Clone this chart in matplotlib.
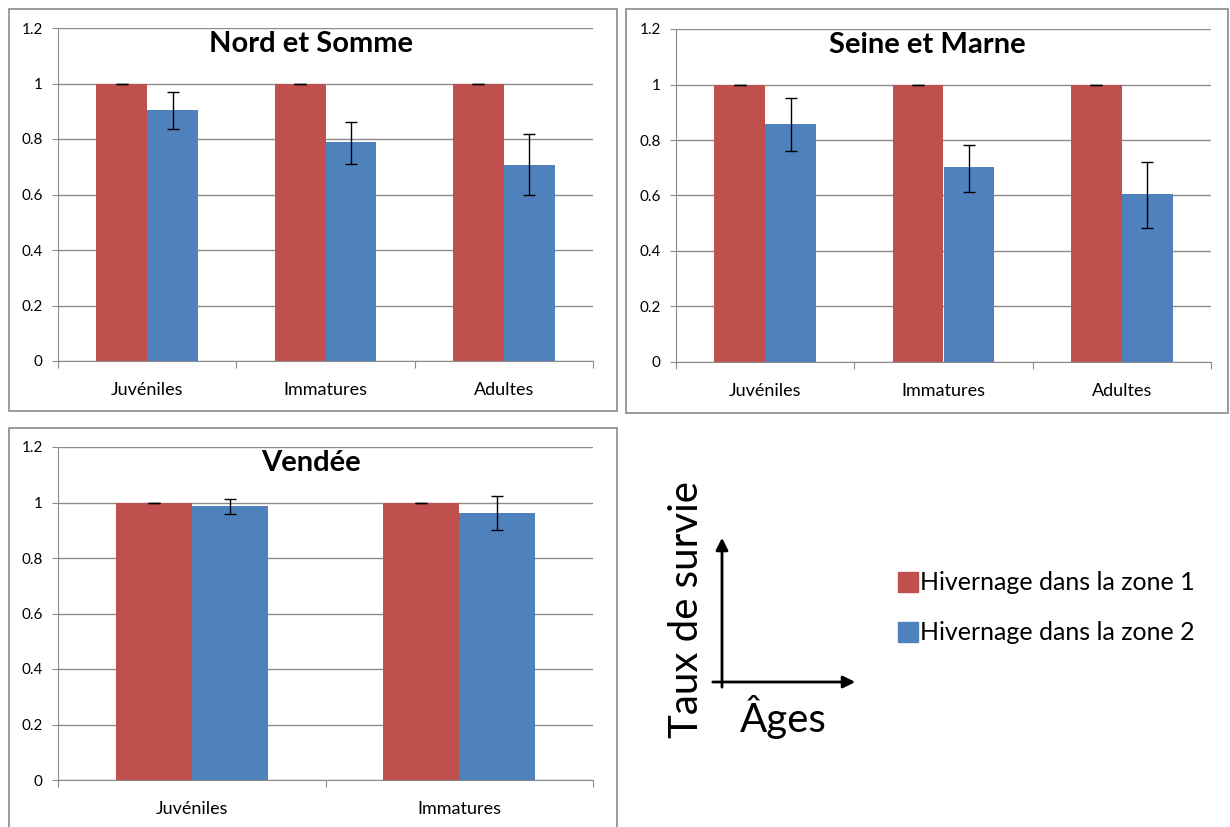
import numpy as np
import matplotlib.pyplot as plt
from matplotlib.patches import Rectangle

plt.rcParams['font.family'] = ['Lato', 'DejaVu Sans']

red = '#C0504D'
blue = '#4F81BD'
grid_col = '#8C8C8C'

# data
cats3 = ["Juvéniles", "Immatures", "Adultes"]
cats2 = ["Juvéniles", "Immatures"]

nord_z1 = [1.0, 1.0, 1.0]
nord_z2 = [0.905, 0.79, 0.707]
nord_lo = [0.835, 0.71, 0.597]
nord_hi = [0.97, 0.86, 0.817]

seine_z1 = [1.0, 1.0, 1.0]
seine_z2 = [0.856, 0.703, 0.606]
seine_lo = [0.762, 0.614, 0.483]
seine_hi = [0.951, 0.782, 0.721]

vendee_z1 = [1.0, 1.0]
vendee_z2 = [0.987, 0.963]
vendee_lo = [0.958, 0.902]
vendee_hi = [1.011, 1.024]

legend_labels = ["Hivernage dans la zone 1", "Hivernage dans la zone 2"]

W, H = 1230, 827
fig = plt.figure(figsize=(W / 100, H / 100), dpi=100)


def px_axes(x0, x1, y0, y1):
    # pixel box -> figure fraction
    return fig.add_axes([x0 / W, 1 - y1 / H, (x1 - x0) / W, (y1 - y0) / H])


def box(x0, x1, y0, y1):
    fig.patches.append(Rectangle((x0 / W, 1 - y1 / H), (x1 - x0) / W, (y1 - y0) / H,
                                 transform=fig.transFigure, fill=False,
                                 edgecolor='#8A8A8A', linewidth=1.2))


def panel(ax, cats, z1, z2, lo, hi, title, tx, ty):
    n = len(cats)
    x = np.arange(n)
    w = 0.285
    z2 = np.array(z2)
    err = [z2 - np.array(lo), np.array(hi) - z2]
    ax.bar(x - w / 2, z1, w, color=red, zorder=2)
    ax.bar(x + w / 2, z2, w, color=blue, zorder=2)
    ax.errorbar(x - w / 2, z1, yerr=0, fmt='none', ecolor='black', elinewidth=1,
                capsize=4, capthick=1, zorder=3)
    ax.errorbar(x + w / 2, z2, yerr=err, fmt='none', ecolor='black', elinewidth=1,
                capsize=4, capthick=1, zorder=3)
    ax.set_xlim(-0.5, n - 0.5)
    ax.set_ylim(0, 1.2)
    ax.set_yticks([0, 0.2, 0.4, 0.6, 0.8, 1, 1.2])
    ax.set_yticklabels(['0', '0.2', '0.4', '0.6', '0.8', '1', '1.2'])
    ax.yaxis.grid(True, color=grid_col, linewidth=1)
    ax.set_axisbelow(True)
    ax.set_xticks(np.arange(n + 1) - 0.5)
    ax.set_xticklabels([])
    ax.set_xticks(x, minor=True)
    ax.set_xticklabels(cats, minor=True, fontsize=13)
    ax.tick_params(axis='x', which='minor', length=0, pad=15)
    ax.tick_params(axis='x', which='major', length=5, color=grid_col)
    ax.tick_params(axis='y', length=4, color=grid_col, labelsize=11, pad=7)
    for s in ['top', 'right']:
        ax.spines[s].set_visible(False)
    for s in ['left', 'bottom']:
        ax.spines[s].set_color(grid_col)
    fig.text(tx / W, 1 - ty / H, title, ha='center', va='center',
             fontsize=21, fontweight='bold')


box(9, 617, 9, 411)
box(626, 1228, 9, 413)
box(9, 617, 428, 840)

ax1 = px_axes(58, 593, 28, 361)
panel(ax1, cats3, nord_z1, nord_z2, nord_lo, nord_hi, "Nord et Somme", 311, 44)
ax2 = px_axes(676, 1211, 29, 362)
panel(ax2, cats3, seine_z1, seine_z2, seine_lo, seine_hi, "Seine et Marne", 927, 45)
ax3 = px_axes(58, 593, 447, 780)
panel(ax3, cats2, vendee_z1, vendee_z2, vendee_lo, vendee_hi, "Vendée", 311, 463)

# schematic axes + legend
sk = fig.add_axes([0, 0, 1, 1], facecolor='none')
sk.set_xlim(0, W)
sk.set_ylim(H, 0)
sk.axis('off')
sk.annotate('', xy=(722, 535), xytext=(722, 690),
            arrowprops=dict(arrowstyle='-|>', color='black', lw=2, mutation_scale=18))
sk.annotate('', xy=(858, 682), xytext=(710, 682),
            arrowprops=dict(arrowstyle='-|>', color='black', lw=2, mutation_scale=18))
sk.text(686, 610, "Taux de survie", rotation=90, ha='center', va='center', fontsize=29)
sk.text(783, 717, "Âges", ha='center', va='center', fontsize=29)

for i, (lab, col) in enumerate(zip(legend_labels, [red, blue])):
    y = 582 + i * 50
    sk.add_patch(Rectangle((898, y - 10), 20, 20, color=col))
    sk.text(920, y, lab, ha='left', va='center', fontsize=18)

fig.savefig('out.png', dpi=100)
